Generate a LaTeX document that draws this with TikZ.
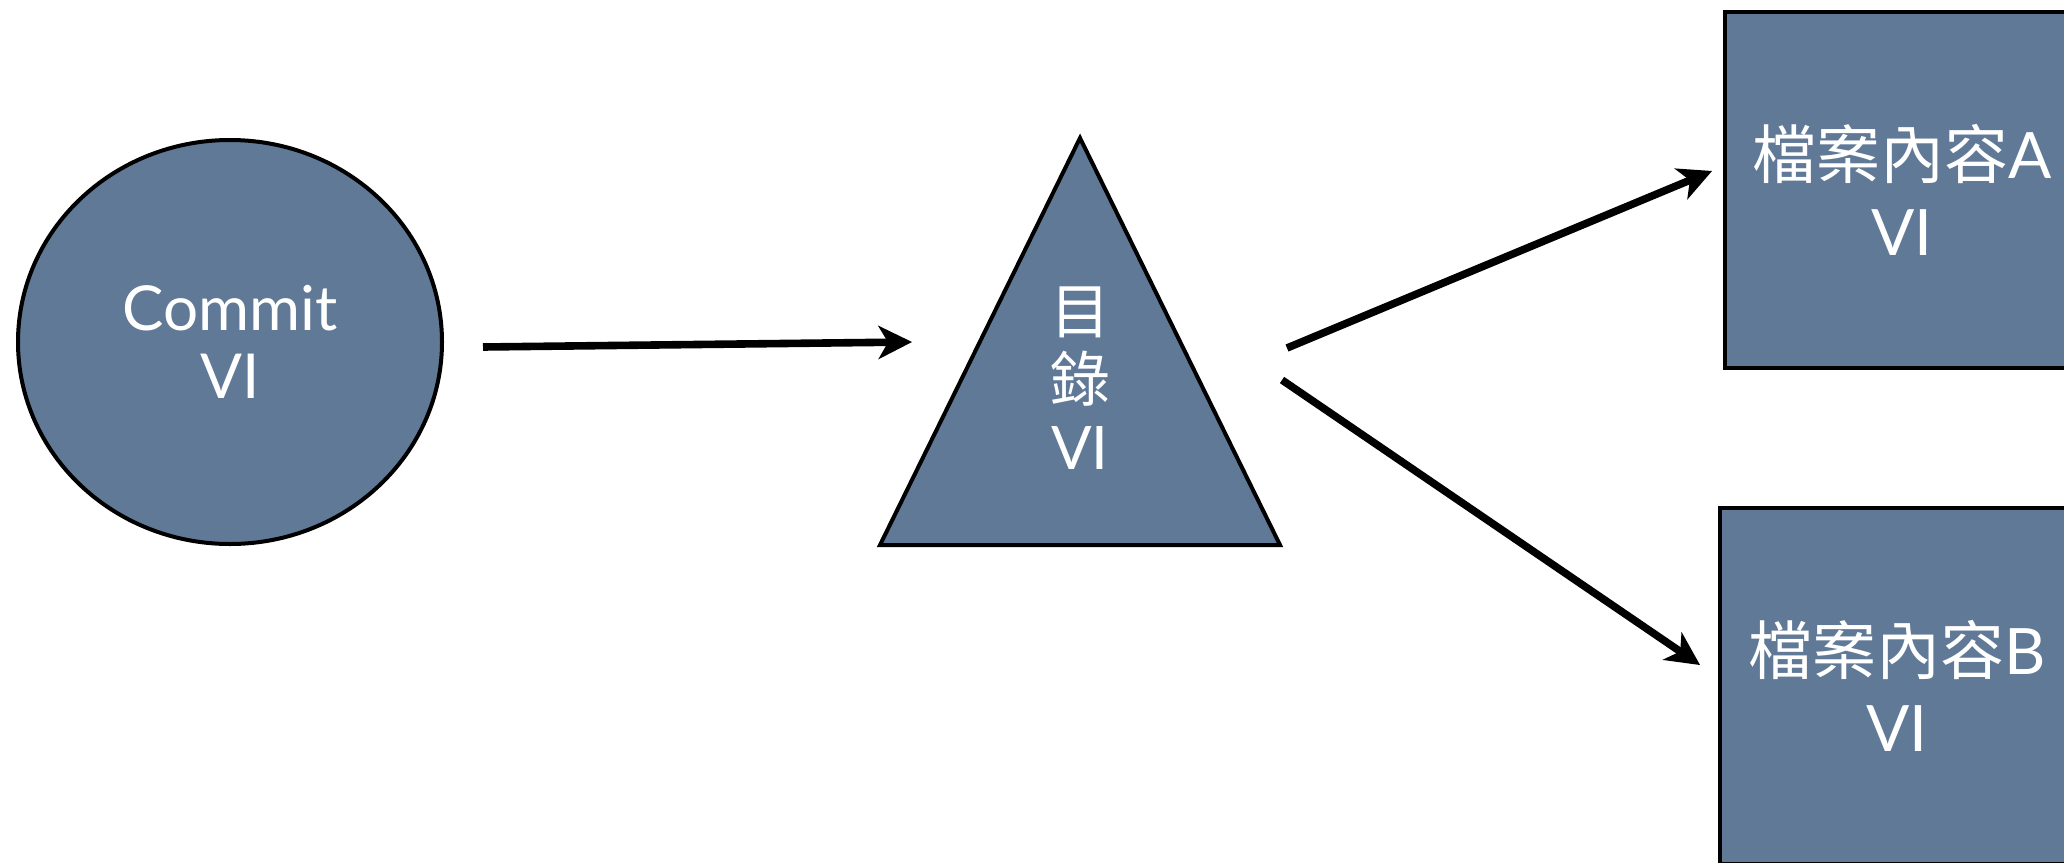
\documentclass[tikz,border=0pt]{standalone}
\usepackage{fontspec}
\setmainfont{Lato}
\newfontfamily\cjk{Noto Sans CJK TC}
\usetikzlibrary{calc,shapes.geometric}
\definecolor{slate}{RGB}{95,121,151}
\begin{document}
\begin{tikzpicture}[x=0.5pt,y=-0.5pt,
  shapeline/.style={draw=black, line width=2pt, fill=slate},
  lbl/.style={text=white, align=center},
  conn/.style={draw=black, line width=3.8pt},
  headfill/.style={fill=black}]
\clip (0,0) rectangle (2064,862);
\useasboundingbox (0,0) rectangle (2064,862);
% commit circle
\node[shapeline, lbl, shape=ellipse, minimum width=212pt, minimum height=202pt, inner sep=0pt,
  font=\fontsize{31pt}{34pt}\selectfont] (commit) at (230,342) {Commit\\VI};
% directory triangle
\draw[shapeline] (1080,138) coordinate (dtop) -- (1280,545) coordinate (dright) -- (880,545) coordinate (dleft) -- cycle;
\node[lbl, font=\fontsize{30pt}{34pt}\selectfont] (dir) at (1080,378) {{\cjk 目}\\{\cjk 錄}\\VI};
% file boxes
\node[shapeline, lbl, shape=rectangle, minimum width=177pt, minimum height=178pt, inner sep=0pt,
  font=\fontsize{32pt}{38.5pt}\selectfont] (fileA) at (1902,190) {{\cjk 檔案內容}A\\VI};
\node[shapeline, lbl, shape=rectangle, minimum width=177pt, minimum height=178pt, inner sep=0pt,
  font=\fontsize{32pt}{38.5pt}\selectfont] (fileB) at (1897,686) {{\cjk 檔案內容}B\\VI};
% connectors
\coordinate (a1s) at (483,347);
\coordinate (a1e) at (912,342);
\coordinate (a2s) at (1287,348);
\coordinate (a2e) at (1712,171);
\coordinate (a3s) at (1282,380);
\coordinate (a3e) at (1700,665);
\foreach \s/\e in {a1s/a1e, a2s/a2e, a3s/a3e}{
  \draw[conn] (\s) -- ($(\e)!11pt!(\s)$);
  \fill[headfill] (\e) -- ($(\e)!17pt!(\s)!8.5pt!90:(\e)$) -- ($(\e)!12pt!(\s)$)
     -- ($(\e)!17pt!(\s)!8.5pt!-90:(\e)$) -- cycle;
}
\end{tikzpicture}
\end{document}
